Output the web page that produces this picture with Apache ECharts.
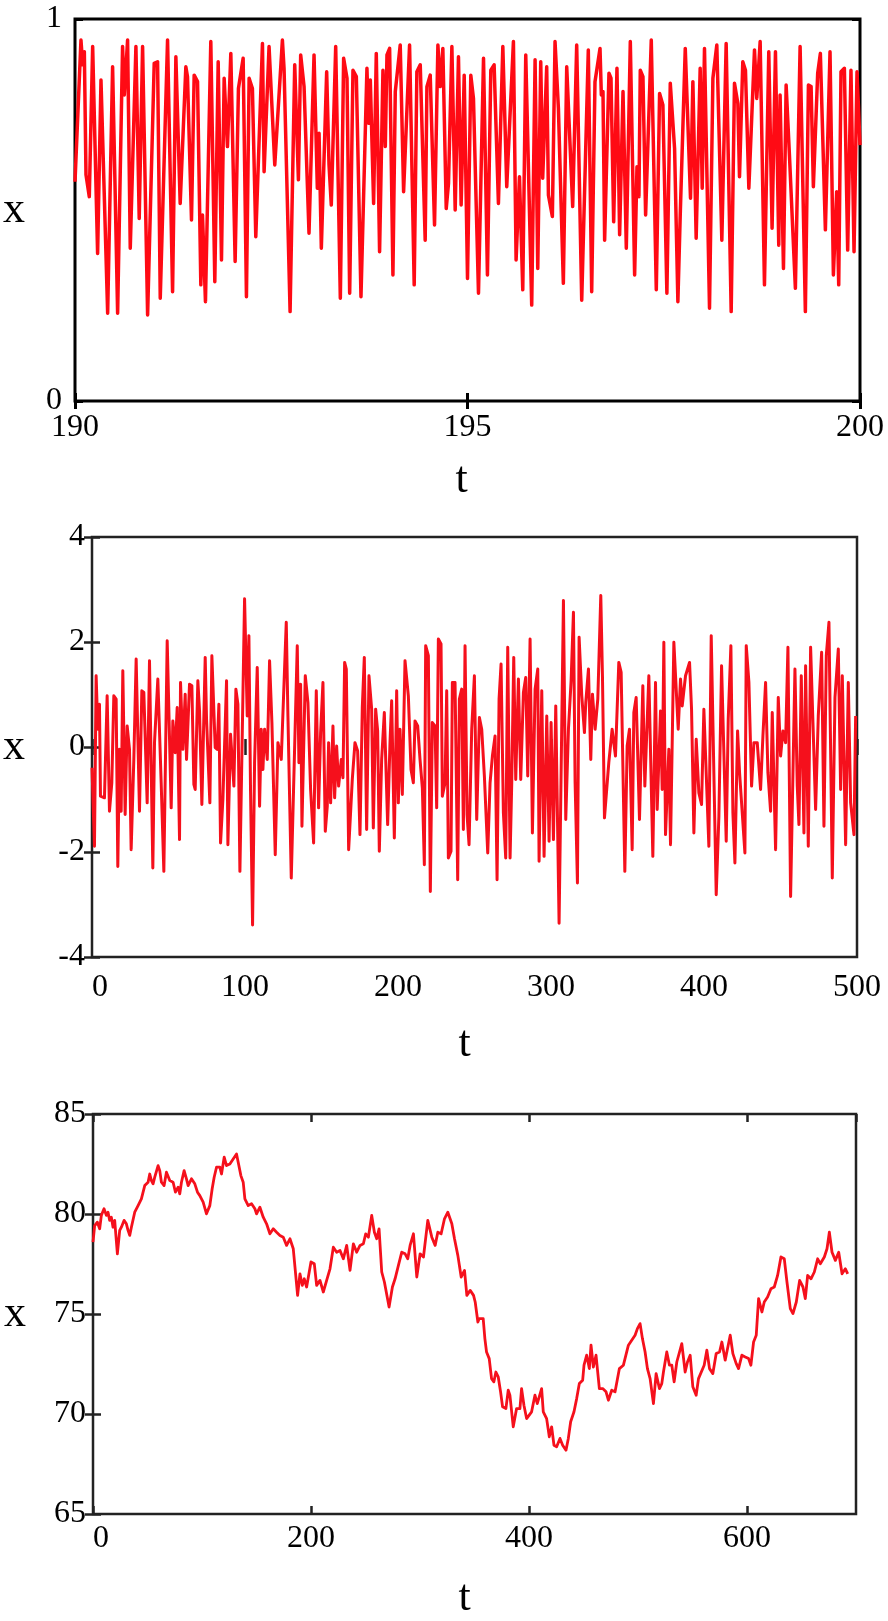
<!DOCTYPE html>
<html>
<head>
<meta charset="utf-8">
<title>x(t)</title>
<script src="https://cdn.jsdelivr.net/npm/echarts@6/dist/echarts.min.js"></script>
<style>
  html, body { margin: 0; padding: 0; background: #fff; }
  #chart { width: 888px; height: 1621px; }
</style>
</head>
<body>
<div id="chart"></div>
<script>
// panel 1, t from 190 to 200
const t1 = [
  190.0, 190.076, 190.098, 190.119, 190.14, 190.182, 190.225, 190.288, 190.331, 190.416,
  190.479, 190.543, 190.606, 190.628, 190.67, 190.704, 190.776, 190.818, 190.861, 190.925,
  191.009, 191.052, 191.086, 191.179, 191.243, 191.285, 191.34, 191.412, 191.433, 191.484,
  191.518, 191.561, 191.603, 191.624, 191.662, 191.73, 191.781, 191.824, 191.866, 191.9,
  191.942, 191.985, 192.04, 192.082, 192.142, 192.184, 192.218, 192.26, 192.303, 192.388,
  192.409, 192.472, 192.545, 192.642, 192.663, 192.74, 192.799, 192.846, 192.875, 192.918,
  192.981, 193.045, 193.087, 193.109, 193.138, 193.206, 193.236, 193.265, 193.321,
  193.38, 193.422, 193.465, 193.499, 193.541, 193.584, 193.643, 193.719, 193.74, 193.762,
  193.804, 193.838, 193.88, 193.923, 193.953, 193.974, 194.008, 194.05, 194.08, 194.143,
  194.186, 194.262, 194.321, 194.355, 194.398, 194.461, 194.483, 194.525, 194.58, 194.623,
  194.652, 194.686, 194.729, 194.758, 194.801, 194.843, 194.885, 194.919, 194.958, 195.0,
  195.042, 195.076, 195.14, 195.204, 195.254, 195.297, 195.339, 195.394, 195.45, 195.5,
  195.585, 195.619, 195.662, 195.704, 195.742, 195.818, 195.861, 195.895, 195.933, 195.958,
  196.009, 196.031, 196.081, 196.115, 196.158, 196.221, 196.264, 196.34, 196.391, 196.455,
  196.539, 196.582, 196.624, 196.688,
  196.705, 196.726, 196.747, 196.802, 196.828, 196.862, 196.904, 196.938, 196.981, 197.023,
  197.074, 197.129, 197.159, 197.184, 197.201, 197.235, 197.269, 197.341, 197.405, 197.447,
  197.489, 197.54, 197.583, 197.638, 197.68, 197.71, 197.774, 197.841, 197.871, 197.913,
  197.964, 197.99, 198.019, 198.083, 198.126, 198.176, 198.24, 198.295, 198.359, 198.401,
  198.444, 198.465, 198.507, 198.541, 198.584, 198.656, 198.685, 198.728, 198.783, 198.838,
  198.88, 198.923, 198.965, 198.982, 199.025, 199.059, 199.101, 199.177, 199.237, 199.304,
  199.343, 199.377, 199.406, 199.461, 199.495, 199.559, 199.618, 199.661, 199.703, 199.729,
  199.758, 199.801, 199.843, 199.885, 199.924, 199.962, 200.0
];
const x1 = [
  0.574, 0.945, 0.880, 0.914, 0.592, 0.535, 0.928, 0.386, 0.840, 0.230,
  0.875, 0.230, 0.928, 0.801, 0.945, 0.400, 0.928, 0.478, 0.928, 0.225,
  0.884, 0.888, 0.269, 0.945, 0.286, 0.901, 0.517, 0.875, 0.849, 0.474,
  0.853, 0.836, 0.304, 0.487, 0.260, 0.941, 0.312, 0.888, 0.369, 0.845,
  0.666, 0.910, 0.365, 0.818, 0.897, 0.273, 0.845, 0.818, 0.430, 0.936,
  0.600, 0.928, 0.618, 0.945, 0.871, 0.234, 0.880, 0.579, 0.906, 0.823,
  0.439, 0.906, 0.557, 0.701, 0.400, 0.862, 0.618, 0.513, 0.928,
  0.269, 0.897, 0.845, 0.282, 0.866, 0.849, 0.273, 0.871, 0.727, 0.840,
  0.517, 0.910, 0.391, 0.866, 0.666, 0.906, 0.923, 0.330, 0.810, 0.932,
  0.548, 0.932, 0.304, 0.862, 0.880, 0.421, 0.823, 0.853, 0.461, 0.932,
  0.823, 0.923, 0.504, 0.570, 0.928, 0.500, 0.901, 0.513, 0.853, 0.321,
  0.853, 0.792, 0.282, 0.897, 0.330, 0.866, 0.880, 0.517, 0.928, 0.561,
  0.941, 0.369, 0.587, 0.291, 0.906, 0.251, 0.893, 0.347, 0.888, 0.583,
  0.875, 0.539, 0.483, 0.941, 0.766, 0.308, 0.875, 0.509, 0.932, 0.264,
  0.919, 0.286, 0.836, 0.923,
  0.801, 0.810, 0.421, 0.858, 0.845, 0.469, 0.871, 0.435, 0.810, 0.400,
  0.941, 0.330, 0.613, 0.535, 0.866, 0.849, 0.487, 0.945, 0.291, 0.805,
  0.775, 0.282, 0.832, 0.661, 0.260, 0.487, 0.923, 0.531, 0.836, 0.426,
  0.871, 0.557, 0.923, 0.243, 0.845, 0.932, 0.421, 0.936, 0.234, 0.832,
  0.779, 0.587, 0.888, 0.866, 0.557, 0.919, 0.792, 0.941, 0.304, 0.914,
  0.452, 0.914, 0.408, 0.801, 0.347, 0.827, 0.644, 0.295, 0.928, 0.234,
  0.827, 0.823, 0.561, 0.858, 0.910, 0.448, 0.914, 0.330, 0.548, 0.304,
  0.862, 0.871, 0.395, 0.866, 0.391, 0.862, 0.670
];

// panel 2, t from 0 to 500
const t2 = [
  0, 1.61, 2.70, 3.79, 4.88, 5.54, 8.15, 9.90, 11.42, 12.95,
  14.26, 15.78, 16.87, 17.96, 19.05, 20.14, 21.67, 22.98, 24.50, 25.59,
  27.34, 28.86, 31.04, 32.57, 33.88, 36.06, 37.58, 39.76, 40.85, 43.03,
  45.21, 46.96, 49.14, 51.76, 52.84, 54.37, 55.68, 57.21, 57.86, 59.39,
  60.91, 61.78, 63.75, 65.27, 66.58, 67.45, 69.19, 70.28, 71.81, 73.99,
  74.86, 77.04, 78.35, 80.53, 81.84, 82.93, 84.02, 85.55, 87.94, 88.82,
  90.56, 92.74, 94.05, 95.36, 96.67, 99.72, 101.46, 102.55, 103.64, 104.95,
  106.26, 108.0, 109.53, 110.62, 111.71, 112.80, 114.54, 116.06, 117.59, 119.77,
  121.52, 123.70, 126.97, 128.06, 130.24, 134.16, 135.25, 136.34, 137.22, 139.40,
  141.14, 142.88, 144.84, 146.59, 148.11, 149.42, 150.95, 152.48, 153.78, 154.65,
  155.96, 157.49, 158.58, 159.89, 161.19, 162.94, 164.03, 165.12, 166.21, 167.74,
  170.13, 171.88, 173.62, 175.15, 176.67, 177.98, 179.51, 181.03, 182.78, 183.87,
  185.39, 186.70, 187.79, 189.32, 191.06, 193.24, 194.77, 195.86, 197.60, 199.13,
  200.22, 201.31, 202.83, 204.58, 206.76, 208.50, 210.03, 211.12, 212.86, 214.39,
  215.91, 217.22, 218.09, 219.84, 221.14, 222.45, 224.20, 225.29, 226.38, 228.12,
  228.99, 230.74, 231.83, 232.92, 234.66, 235.53, 237.28, 239.02, 240.11, 241.64,
  242.73, 243.82, 245.13, 246.44, 248.18, 249.93, 251.45, 253.20, 254.72, 256.46,
  258.65, 260.17, 261.70, 263.44, 264.75, 266.06, 267.36, 268.89, 270.41, 271.72,
  273.25, 274.34, 275.65, 276.95, 278.70, 280.22, 281.97, 283.49, 284.80, 286.33,
  287.85, 289.60, 291.34, 292.21, 293.96, 295.48, 297.23, 298.75, 300.06, 301.59,
  303.11, 305.29, 308.13, 309.65, 311.40, 313.14, 314.67, 315.76, 317.28, 318.37,
  320.12, 321.86, 322.73, 324.48, 326.0, 327.09, 328.84, 330.58, 332.54, 333.63,
  334.94,
  337.78, 339.96, 342.14, 344.32, 345.85, 348.25, 349.78, 351.30, 353.05, 354.14,
  355.66, 357.84, 360.02, 361.33, 363.95, 366.56, 368.31, 369.40, 371.58, 372.67,
  373.76, 374.85, 377.03, 378.12, 380.30, 383.14, 384.66, 385.75, 387.93, 390.55,
  391.86, 393.38, 394.91, 396.65, 398.40, 399.92, 403.19, 404.72, 407.99, 409.73,
  411.48, 414.53, 415.84, 417.58, 418.89, 420.20, 421.94, 423.25, 426.74, 427.61,
  429.35, 431.10, 432.62, 434.80, 436.98, 438.51, 440.25, 441.78, 443.52, 444.61,
  446.79, 448.54, 450.06, 451.59, 453.33, 454.86, 456.60, 459.44, 460.96, 462.05,
  463.58, 465.32, 466.41, 468.16, 469.68, 471.21, 472.95, 474.70, 476.88, 478.40,
  479.93, 481.67, 483.85, 485.60, 487.78, 489.30, 490.39, 492.57, 494.32, 495.84,
  498.02, 499.11
];
const x2 = [
  -0.395, -1.89, 1.357, 0.338, 0.815, -0.936, -0.968, 0.975, -1.223, -0.682,
  0.975, 0.911, -2.274, -0.045, -1.223, 1.452, -1.287, 0.401, -0.045, -1.955,
  -0.236, 1.675, -1.223, 1.07, 1.038, -1.064, 1.643, -2.306, 0.083, 1.293,
  -0.682, -2.369, 2.025, -1.159, 0.497, -0.108, 0.752, -1.764, 1.229, -0.045,
  1.006, -0.236, 1.197, 1.166, -0.713, -0.809, 1.261, 0.688, -1.096, 1.707,
  0.529, -1.064, 1.739, -0.013, -0.045, 0.815, -1.828, -1.0, 1.261, -1.86,
  0.242, -0.745, 1.102, 0.815, -2.369, 2.822, 0.592, 2.121, -0.873, -3.389,
  -0.299, 1.516, -1.127, 0.338, -0.427, 0.338, -0.236, 1.643, 0.465, -2.051,
  0.083, -0.236, 2.376, 0.592, -2.497, 1.93, -0.299, 1.197, -1.51, 1.357,
  0.847, -0.809, -1.828, 1.07, -1.159, 0.274, 1.229, -1.605, -1.127, 0.083,
  -1.064, 0.401, -0.968, 0.019, -0.745, -0.236, -0.586, 1.611, 1.484, -1.955,
  -0.618, 0.083, -0.076, -1.669, 0.752, 1.707, -1.573, 1.357, 0.72, -1.541,
  0.72, 0.306, -1.987, -0.236, 0.656, -1.478, 0.083, 0.879, -1.732, 1.07,
  -1.064, 0.338, -0.904, 1.643, 0.975, -0.427, -0.682, 0.497, 0.401, -0.236,
  -0.777, -2.242, 1.93, 1.739, -2.752, 0.465, 0.401, -1.159, 2.057, 1.962,
  -0.936, -0.682, 1.07, -2.115, -1.987, 1.229, 1.229, -2.529, 0.911, 1.102,
  -1.573, 1.93, -1.287, -1.86, 0.338, 1.357, -1.382, 0.561, 0.338, -0.554,
  -2.019, -0.682, -0.172, 0.21, -2.529, 0.911, 1.58, -1.255, -2.115, 1.898,
  -2.115, -0.682, 1.707, -0.618, 1.293, -0.618, 1.038, 1.325, -0.554, 2.057,
  -1.637, 1.102, 1.484, -2.178, 1.07, -2.083, 0.592, -1.796, 0.465, -1.764,
  0.783, -3.357, 2.79, -1.382, 0.338, 1.261, 2.567, -0.682, -2.592, 2.089,
  0.975, 0.274, 0.847, 1.484, -0.236, 1.006, 0.338, 0.911, 2.885, 1.357,
  -1.35,
  -0.299, 0.338, -0.172, 1.611, 1.42, -2.369, 0.019, 0.338, -1.955, 0.656,
  0.943, -1.382, 1.166, -0.745, 1.357, -2.083, 1.229, -1.191, 0.688, -0.809,
  1.994, -1.669, -0.045, -1.86, 1.994, 0.338, 1.293, 0.783, 1.357, 1.611,
  0.72, -1.637, 0.146, -0.873, -1.096, 0.72, -1.892, 2.121, -2.815, -1.318,
  1.548, -1.796, 0.529, 1.93, -1.255, -2.21, 0.306, -0.49, -2.019, 1.93,
  1.229, -0.745, 0.083, 0.083, -0.809, 0.21, 1.229, -0.49, -1.223, 0.656,
  -1.955, 0.943, -0.172, 0.306, 0.083, 1.898, -2.847, 1.484, -0.745, -1.478,
  1.357, -1.637, 1.548, -1.892, 1.898, 0.465, -1.191, 0.592, 1.803, -1.51,
  1.739, 2.376, -2.497, 0.943, 1.866, -0.809, 1.357, -1.86, 1.229, -1.064,
  -1.669, 0.592
];

// panel 3, t from 0 to 700
const t3 = [
  0, 1.53, 3.98, 6.12, 7.66, 10.11, 12.25, 13.78, 15.31, 16.84,
  18.37, 19.91, 22.36, 24.50, 26.03, 28.48, 30.62, 32.15, 33.69, 35.22,
  38.28, 41.34, 44.40, 47.47, 50.53, 52.06, 53.59, 55.12, 56.65, 59.72,
  61.25, 62.78, 65.23, 67.37, 70.43, 73.50, 75.64, 78.09, 79.62, 81.15,
  83.60, 85.74, 87.28, 90.34, 93.40, 95.85, 98.00, 101.06, 104.12, 107.18,
  109.33, 111.16, 113.31, 116.37, 117.90, 120.35, 122.49, 125.56, 128.62, 131.68,
  133.21, 135.66, 137.80, 139.34, 142.40, 145.46, 148.52, 150.05, 153.12, 156.18,
  159.24, 162.30, 165.37, 168.43, 171.49, 174.55, 177.61, 180.68, 183.74, 187.72,
  189.86, 192.01, 193.84, 195.99, 199.97, 203.03, 205.18, 208.24, 211.30, 214.36,
  217.43, 220.49, 223.55, 226.61, 229.67, 232.74, 235.80, 238.86, 241.92, 244.99,
  248.05, 250.19, 252.64, 255.70, 258.15, 260.30, 262.44, 264.89, 267.34, 271.63,
  274.69, 277.14, 280.20, 283.26, 286.33, 288.78, 290.92, 293.98, 297.05, 300.11,
  303.17, 307.15, 310.83, 313.89, 316.34, 319.40, 322.46, 325.53, 329.20, 331.65,
  334.71, 337.77, 340.84, 342.98, 346.04, 349.11, 350.64, 353.09,
  354.31, 357.98, 359.52, 361.05, 363.50, 365.64, 367.79, 369.62, 371.76, 373.91,
  375.75, 378.81, 380.95, 382.48, 385.55, 387.08, 388.61, 391.67, 393.20, 395.35,
  397.80, 402.39, 405.45, 407.59, 411.58, 413.11, 416.17, 418.62, 420.76, 422.91,
  425.36, 428.42, 430.87, 433.93, 436.08, 438.22, 441.28, 443.73, 446.18, 449.24,
  450.47, 452.92, 455.37, 456.90, 459.04, 461.49, 464.55, 467.61, 470.68, 472.82,
  475.88, 478.95, 482.93, 486.60, 491.20, 494.26, 497.32, 499.46, 501.91, 504.06,
  506.51, 508.65, 511.10, 514.16, 516.61, 519.68, 521.82, 523.35, 526.41, 528.86,
  531.01, 533.15, 535.60, 540.19, 543.26, 545.40, 547.85, 550.30, 553.36, 555.50,
  560.71, 563.16, 565.61, 568.67, 571.73, 574.80, 576.94, 580.00, 584.60, 587.05,
  590.11, 592.25, 595.32, 598.38, 601.44, 603.58, 606.03, 608.48, 610.63, 613.69,
  615.83, 618.89, 621.96, 625.02, 628.08, 631.14, 634.21, 636.66, 639.72, 642.17,
  645.23, 648.29, 651.35, 653.50, 655.64, 658.70, 661.77, 664.83, 667.28, 670.95,
  673.40, 675.55, 678.00, 681.06, 684.13, 687.19, 690.25, 692.39
];
const x3 = [
  78.59, 79.42, 79.59, 79.26, 79.93, 80.26, 79.93, 80.09, 79.68, 79.84,
  79.34, 79.68, 78.01, 79.18, 79.34, 79.68, 79.51, 79.18, 78.93, 79.34,
  80.09, 80.42, 80.76, 81.42, 81.59, 82.00, 81.67, 81.51, 81.84, 82.42,
  82.17, 81.59, 81.42, 82.09, 81.67, 81.59, 81.09, 81.34, 81.01, 81.59,
  82.17, 81.76, 81.42, 81.76, 81.51, 81.09, 80.92, 80.59, 80.01, 80.42,
  81.26, 81.84, 82.34, 82.34, 82.00, 82.84, 82.42, 82.50, 82.75, 83.00,
  82.59, 81.92, 81.59, 80.76, 80.42, 80.51, 80.26, 80.01, 80.34, 79.84,
  79.51, 79.01, 79.26, 79.09, 78.93, 78.84, 78.43, 78.76, 78.26, 75.93,
  77.01, 76.43, 76.76, 76.35, 77.60, 77.51, 76.43, 76.68, 76.10, 76.68,
  77.26, 78.34, 78.09, 78.18, 77.76, 78.43, 77.18, 78.51, 78.09, 78.43,
  78.51, 79.01, 78.84, 79.93, 79.09, 78.76, 79.26, 77.10, 76.60, 75.35,
  76.35, 76.76, 77.43, 78.09, 78.01, 77.76, 78.43, 79.01, 76.85, 78.01,
  77.85, 79.68, 78.84, 78.43, 79.09, 79.01, 79.76, 80.09, 79.51, 78.76,
  77.93, 76.85, 77.18, 75.93, 76.18, 75.93, 75.60, 74.60,
  74.77, 74.77, 73.77, 73.10, 72.77, 71.77, 71.61, 72.10, 71.86, 71.11,
  70.36, 70.27, 71.19, 70.94, 69.36, 69.44, 70.27, 70.27, 71.27, 70.44,
  69.77, 70.11, 70.94, 70.52, 71.27, 70.11, 69.77, 68.86, 69.36, 68.44,
  68.36, 68.78, 68.44, 68.19, 68.78, 69.61, 70.11, 70.77, 71.52, 71.69,
  72.44, 72.94, 72.27, 73.44, 72.35, 72.94, 71.27, 71.27, 71.11, 70.69,
  71.19, 71.11, 72.27, 72.44, 73.44, 73.69, 73.94, 74.27, 74.52, 73.77,
  73.10, 72.27, 71.77, 70.52, 72.02, 71.27, 71.52, 72.10, 73.10, 72.44,
  72.44, 71.61, 72.60, 73.52, 72.10, 72.60, 72.94, 71.36, 70.94, 71.77,
  72.44, 73.19, 72.27, 72.02, 73.02, 73.10, 73.60, 72.69, 73.94, 73.02,
  72.52, 72.27, 72.94, 72.85, 72.77, 72.44, 73.60, 73.94, 75.77, 75.10,
  75.60, 75.85, 76.26, 76.35, 76.93, 77.85, 77.76, 76.60, 75.27, 75.02,
  75.60, 76.68, 76.35, 75.77, 76.93, 76.76, 77.10, 77.76, 77.51, 77.85,
  78.26, 79.09, 78.09, 77.68, 78.09, 77.01, 77.26, 77.01
];

// axis ranges [min, max, step]
const tRanges = [[190, 200, 5], [0, 500, 100], [0, 700, 200]];
const xRanges = [[0, 1, 1], [-4, 4, 2], [65, 85, 5]];

const FONT = 'Liberation Serif';

const panels = [
  {
    t: t1, x: x1, box: { left: 74, top: 19, width: 786, height: 382 },
    frame: '#000', frameWidth: 3, lineColor: '#ff0a14', lineWidth: 3.5,
    xLabelMargin: 11, yLabelMargin: 13, yLabelPad: [0, 0, 0, 0],
    tNameGap: 79, xNameGap: 61, tNamePad: [0, 12, 0, 0], minLeft: false
  },
  {
    t: t2, x: x2, box: { left: 92, top: 537, width: 765, height: 420 },
    frame: '#222', frameWidth: 2.5, lineColor: '#f5101c', lineWidth: 3,
    xLabelMargin: 15, yLabelMargin: 7, yLabelPad: [6, 0, 0, 0],
    tNameGap: 87, xNameGap: 78, tNamePad: [0, 20, 0, 0], minLeft: true
  },
  {
    t: t3, x: x3, box: { left: 93, top: 1114, width: 763, height: 400 },
    frame: '#222', frameWidth: 2.5, lineColor: '#f5101c', lineWidth: 2.8,
    xLabelMargin: 9, yLabelMargin: 7, yLabelPad: [0, 0, 0, 0],
    tNameGap: 84, xNameGap: 78, tNamePad: [0, 20, 0, 0], minLeft: true
  }
];

const grid = [];
const xAxis = [];
const yAxis = [];
const series = [];

panels.forEach((p, i) => {
  const [tMin, tMax, tStep] = tRanges[i];
  const [xMin, xMax, xStep] = xRanges[i];
  const tick = {
    show: true,
    inside: true,
    length: 8,
    lineStyle: { color: p.frame, width: p.frameWidth }
  };
  const labelFont = { color: '#000', fontFamily: FONT, fontSize: 32 };
  const nameFont = {
    color: '#000', fontFamily: FONT, fontSize: 44,
    align: 'center', verticalAlign: 'middle'
  };

  grid.push(Object.assign({
    show: true,
    borderColor: p.frame,
    borderWidth: p.frameWidth,
    backgroundColor: 'transparent'
  }, p.box));

  xAxis.push({
    type: 'value', gridIndex: i, position: 'bottom',
    min: tMin, max: tMax, interval: tStep,
    axisLine: { show: false }, splitLine: { show: false }, axisTick: tick,
    axisLabel: Object.assign({
      margin: p.xLabelMargin,
      alignMinLabel: p.minLeft ? 'left' : 'center',
      showMaxLabel: tMax % tStep === 0
    }, labelFont),
    name: 't', nameLocation: 'middle', nameGap: p.tNameGap,
    nameTextStyle: Object.assign({ padding: p.tNamePad }, nameFont)
  });
  xAxis.push({
    type: 'value', gridIndex: i, position: 'top',
    min: tMin, max: tMax, interval: tStep,
    axisLine: { show: false }, splitLine: { show: false }, axisTick: tick,
    axisLabel: { show: false }
  });

  yAxis.push({
    type: 'value', gridIndex: i, position: 'left',
    min: xMin, max: xMax, interval: xStep,
    axisLine: { show: false }, splitLine: { show: false }, axisTick: tick,
    axisLabel: Object.assign({ margin: p.yLabelMargin, padding: p.yLabelPad }, labelFont),
    name: 'x', nameLocation: 'middle', nameGap: p.xNameGap, nameRotate: 0,
    nameTextStyle: nameFont
  });
  yAxis.push({
    type: 'value', gridIndex: i, position: 'right',
    min: xMin, max: xMax, interval: xStep,
    axisLine: { show: false }, splitLine: { show: false }, axisTick: tick,
    axisLabel: { show: false }
  });

  series.push({
    type: 'line',
    xAxisIndex: 2 * i,
    yAxisIndex: 2 * i,
    data: p.t.map((tv, k) => [tv, p.x[k]]),
    showSymbol: false,
    symbol: 'none',
    animation: false,
    lineStyle: { color: p.lineColor, width: p.lineWidth, join: 'round' }
  });
});

const chart = echarts.init(document.getElementById('chart'), null, { renderer: 'canvas' });
chart.setOption({
  animation: false,
  backgroundColor: '#fff',
  grid,
  xAxis,
  yAxis,
  series
});

window.addEventListener('resize', () => chart.resize());
</script>
</body>
</html>
